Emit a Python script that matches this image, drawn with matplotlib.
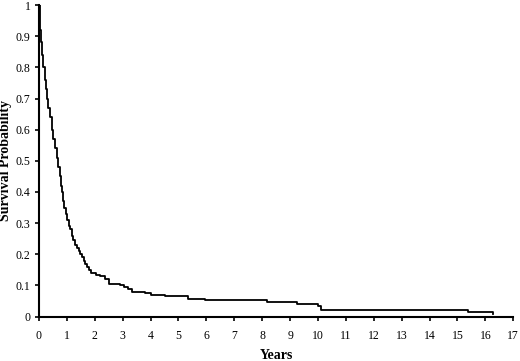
import numpy as np
import matplotlib
matplotlib.use("Agg")
import matplotlib.pyplot as plt

# Kaplan-Meier style survival estimate
years = [0, 0.02, 0.05, 0.08, 0.11, 0.15, 0.2, 0.25, 0.3, 0.34, 0.4, 0.45, 0.5, 0.56, 0.63,
         0.69, 0.74, 0.78, 0.81, 0.86, 0.9, 0.95, 1.0, 1.06, 1.11, 1.17, 1.23, 1.3, 1.36,
         1.42, 1.48, 1.53, 1.6, 1.66, 1.72, 1.78, 1.88, 2.05, 2.2, 2.35, 2.5, 2.9, 3.05,
         3.2, 3.35, 3.8, 4.0, 4.5, 5.35, 5.95, 8.16, 9.24, 10.0, 10.1, 15.37, 16.26]
survival = [1.0, 0.97, 0.92, 0.88, 0.84, 0.8, 0.76, 0.73, 0.7, 0.67, 0.64, 0.6, 0.57, 0.54,
            0.51, 0.48, 0.45, 0.42, 0.4, 0.37, 0.35, 0.33, 0.31, 0.29, 0.28, 0.26, 0.245,
            0.23, 0.22, 0.21, 0.2, 0.19, 0.18, 0.17, 0.16, 0.15, 0.14, 0.135, 0.13, 0.12,
            0.105, 0.1, 0.095, 0.088, 0.08, 0.075, 0.07, 0.065, 0.058, 0.052, 0.046, 0.04,
            0.034, 0.022, 0.014, 0.008]
x_ticks = list(range(0, 18))
y_ticks = [0, 0.1, 0.2, 0.3, 0.4, 0.5, 0.6, 0.7, 0.8, 0.9, 1]
y_labels = ["0", "0.1", "0.2", "0.3", "0.4", "0.5", "0.6", "0.7", "0.8", "0.9", "1"]

plt.rcParams['font.family'] = ['Liberation Serif', 'DejaVu Serif']

fig = plt.figure(figsize=(5.2, 3.61), dpi=100)
ax = fig.add_axes([0.075, 0.123, 0.912, 0.863])

ax.plot(years, survival, drawstyle='steps-post', color='black', lw=1.3)

ax.set_xlim(0, 17)
ax.set_ylim(0, 1)
ax.set_xticks(x_ticks)
ax.set_xticklabels([str(t) for t in x_ticks], fontsize=8.5)
ax.set_yticks(y_ticks)
ax.set_yticklabels(y_labels, fontsize=8.5)
ax.tick_params(direction='out', length=3, width=1.2, colors='black')
ax.tick_params(axis='x', pad=7)
ax.tick_params(axis='y', pad=3)

for s in ['top', 'right']:
    ax.spines[s].set_visible(False)
for s in ['left', 'bottom']:
    ax.spines[s].set_linewidth(1.5)

ax.set_xlabel('Years', fontsize=10, fontweight='bold', labelpad=5)
ax.set_ylabel('Survival Probability', fontsize=10, fontweight='bold', labelpad=3)

fig.savefig('out.png', dpi=100)
